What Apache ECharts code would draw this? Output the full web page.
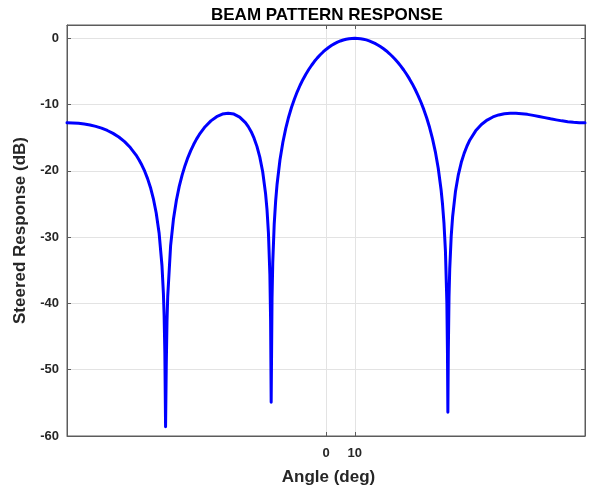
<!DOCTYPE html>
<html>
<head>
<meta charset="utf-8">
<title>Beam Pattern Response</title>
<script src="https://cdn.jsdelivr.net/npm/echarts@6/dist/echarts.min.js"></script>
<style>
  html, body { margin: 0; padding: 0; background: #ffffff; }
  #chart { width: 592px; height: 493px; }
</style>
</head>
<body>
<div id="chart"></div>
<script>
// Steering angle sweep (deg) and the steered array response (dB)
const angles = [
  -90, -88, -86, -84, -82, -80, -78, -76, -74, -72, -70, -68, -66, -65, -64, -63,
  -62, -61, -60, -59, -58, -57, -56.5, -56.25, -56, -55.75, -55.5, -55.25, -55, -54, -53, -52,
  -51, -50, -49, -48, -47, -46, -45, -44, -42, -40, -38, -36, -34, -32, -30, -28,
  -27, -26, -25, -24, -23, -22, -21, -20.5, -20, -19.5, -19.25, -19.05, -18.75, -18.5, -18, -17.5,
  -17, -16, -15, -14, -13, -12, -11, -10, -9, -8, -7, -6, -5, -4, -3, -2,
  -1, 0, 1, 2, 3, 4, 5, 6, 7, 8, 9, 10, 11, 12, 13, 14,
  15, 16, 17, 18, 19, 20, 21, 22, 23, 24, 25, 26, 27, 28, 29, 30,
  31, 32, 33, 34, 35, 36, 37, 38, 39, 40, 40.5, 41, 41.5, 42, 42.2, 42.35,
  42.5, 42.75, 43, 43.5, 44, 45, 46, 47, 48, 49, 50, 52, 54, 56, 58, 60,
  62, 64, 66, 68, 70, 72, 74, 76, 78, 80, 82, 84, 86, 88, 90
];
const responseDb = [
  -12.76, -12.77, -12.83, -12.94, -13.09, -13.29, -13.56, -13.91, -14.35, -14.90, -15.60, -16.49, -17.62, -18.32, -19.12, -20.06,
  -21.17, -22.51, -24.18, -26.35, -29.37, -34.28, -38.53, -41.89, -47.48, -58.6, -49.15, -42.64, -38.93, -31.32, -27.26, -24.47,
  -22.35, -20.64, -19.22, -18.00, -16.95, -16.03, -15.22, -14.51, -13.34, -12.46, -11.83, -11.44, -11.31, -11.44, -11.89, -12.72,
  -13.33, -14.10, -15.07, -16.31, -17.93, -20.14, -23.43, -25.86, -29.39, -35.72, -42.63, -54.9, -39.18, -33.81, -28.07, -24.56,
  -22.02, -18.36, -15.72, -13.63, -11.91, -10.45, -9.19, -8.08, -7.09, -6.21, -5.42, -4.71, -4.07, -3.48, -2.96, -2.49,
  -2.07, -1.69, -1.36, -1.06, -0.81, -0.59, -0.41, -0.26, -0.14, -0.06, -0.02, 0.00, -0.02, -0.06, -0.14, -0.25,
  -0.39, -0.57, -0.77, -1.01, -1.28, -1.58, -1.92, -2.30, -2.71, -3.17, -3.66, -4.20, -4.79, -5.43, -6.13, -6.89,
  -7.73, -8.64, -9.65, -10.77, -12.03, -13.47, -15.14, -17.13, -19.60, -22.89, -25.08, -27.94, -32.07, -39.90, -47.02, -56.4,
  -47.35, -38.90, -34.75, -29.93, -26.92, -23.07, -20.57, -18.75, -17.36, -16.25, -15.34, -13.97, -13.01, -12.34, -11.87, -11.57,
  -11.39, -11.32, -11.31, -11.38, -11.48, -11.63, -11.79, -11.97, -12.15, -12.31, -12.46, -12.58, -12.68, -12.74, -12.76
];
const xTickValues = [0, 10];
const yTickValues = [-60, -50, -40, -30, -20, -10, 0];

const FONT = "'Liberation Sans', Arial, Helvetica, sans-serif";
const AXIS_COLOR = '#5c5c5c';
const GRID_COLOR = '#e3e3e3';
const LABEL_COLOR = '#262626';

const chart = echarts.init(document.getElementById('chart'), null, { renderer: 'canvas' });

const tickStyle = { inside: true, length: 4, lineStyle: { color: AXIS_COLOR, width: 1 } };
const lineStyle = { show: true, onZero: false, lineStyle: { color: AXIS_COLOR, width: 1 } };

chart.setOption({
  animation: false,
  backgroundColor: '#ffffff',
  title: {
    text: 'BEAM PATTERN RESPONSE',
    left: 206,
    top: 2,
    textStyle: { fontFamily: FONT, fontWeight: 'bold', fontSize: 17, color: '#000000' }
  },
  grid: {
    left: 67, right: 7, top: 25, bottom: 57,
    show: true, borderColor: AXIS_COLOR, borderWidth: 1
  },
  xAxis: [
    {
      type: 'value', position: 'bottom',
      min: -90, max: 90, interval: 10,
      name: 'Angle (deg)', nameLocation: 'middle', nameGap: 33,
      nameTextStyle: { fontFamily: FONT, fontWeight: 'bold', fontSize: 17, color: LABEL_COLOR, padding: [0, 0, 0, 5] },
      axisLine: lineStyle,
      axisTick: Object.assign({ customValues: xTickValues }, tickStyle),
      axisLabel: {
        customValues: xTickValues, margin: 11,
        fontFamily: FONT, fontWeight: 'bold', fontSize: 13, color: LABEL_COLOR
      },
      splitLine: { show: true, lineStyle: { color: GRID_COLOR, width: 1 } }
    },
    {
      type: 'value', position: 'top',
      min: -90, max: 90, interval: 10,
      axisLine: lineStyle,
      axisTick: Object.assign({ customValues: xTickValues }, tickStyle),
      axisLabel: { show: false },
      splitLine: { show: false }
    }
  ],
  yAxis: [
    {
      type: 'value', position: 'left',
      min: -60, max: 2, interval: 10,
      name: 'Steered Response (dB)', nameLocation: 'middle', nameGap: 30,
      nameTextStyle: { fontFamily: FONT, fontWeight: 'bold', fontSize: 17, color: LABEL_COLOR },
      axisLine: lineStyle,
      axisTick: Object.assign({ customValues: yTickValues }, tickStyle),
      axisLabel: {
        customValues: yTickValues, margin: 8,
        fontFamily: FONT, fontWeight: 'bold', fontSize: 13, color: LABEL_COLOR
      },
      splitLine: { show: true, lineStyle: { color: GRID_COLOR, width: 1 } }
    },
    {
      type: 'value', position: 'right',
      min: -60, max: 2, interval: 10,
      axisLine: lineStyle,
      axisTick: Object.assign({ customValues: yTickValues }, tickStyle),
      axisLabel: { show: false },
      splitLine: { show: false }
    }
  ],
  series: [
    {
      type: 'line',
      xAxisIndex: 0, yAxisIndex: 0,
      data: angles.map((a, i) => [a, responseDb[i]]),
      showSymbol: false,
      smooth: false,
      lineStyle: { color: '#0000ff', width: 3, join: 'round', cap: 'round' },
      z: 3
    }
  ]
});
</script>
</body>
</html>
